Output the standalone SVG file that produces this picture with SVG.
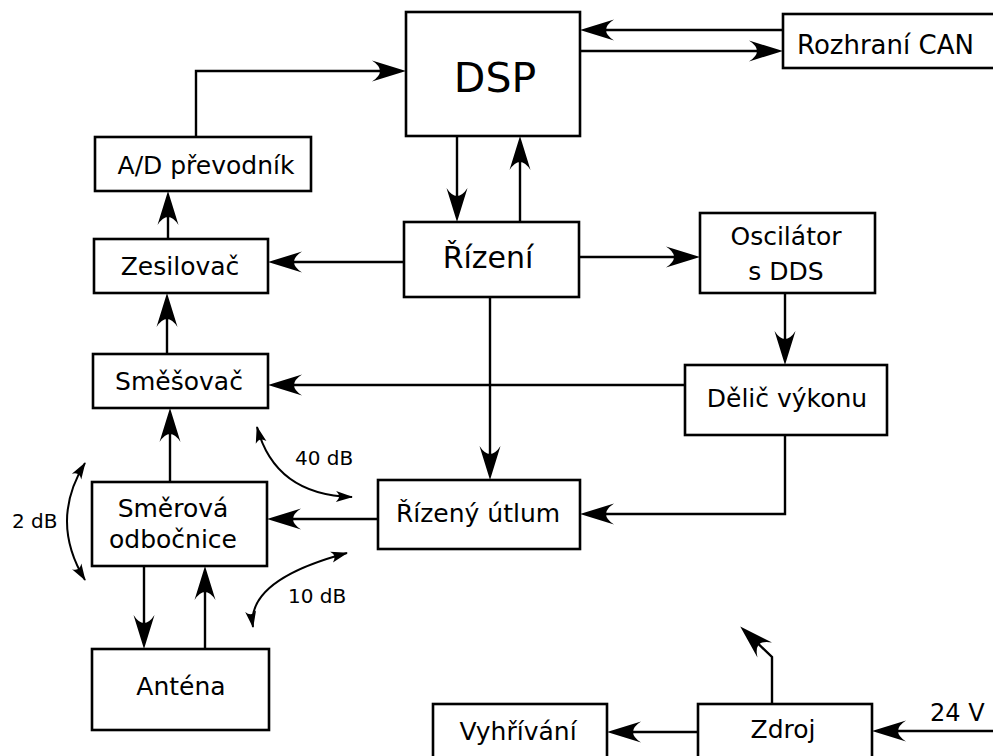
<svg xmlns="http://www.w3.org/2000/svg" width="993" height="756" viewBox="0 0 993 756">
<style>
rect{fill:#fff;stroke:#000;stroke-width:2.6}
text{font-family:"DejaVu Sans","Liberation Sans",sans-serif;fill:#000;font-size:25px;text-anchor:middle}
.c path{fill:none;stroke:#000;stroke-width:2.4;marker-end:url(#a)}
.c path.cv{stroke-width:2;marker-start:url(#s);marker-end:url(#s)}
.lbl{font-size:20px;text-anchor:start}
</style>
<defs>
<marker id="a" markerUnits="userSpaceOnUse" orient="auto" refX="-8" refY="0" markerWidth="1" markerHeight="1" overflow="visible">
<path d="M0,0 L-34,-10.5 Q-18,0 -34,10.5 Z" fill="#000"/>
</marker>
<marker id="s" markerUnits="userSpaceOnUse" orient="auto-start-reverse" refX="0" refY="0" markerWidth="1" markerHeight="1" overflow="visible">
<path d="M1,0 L-16,-5.5 Q-10,0 -16,5.5 Z" fill="#000"/>
</marker>
</defs>
<g class="c" id="connectors">
<path d="M196,137 V71 H398"/>
<path d="M580,51 H775"/>
<path d="M783,30 H588"/>
<path d="M457,136 V214"/>
<path d="M520,222 V144"/>
<path d="M404,262 H276"/>
<path d="M579,257 H692"/>
<path d="M785,293 V357"/>
<path d="M685,385 H276"/>
<path d="M490,297 V472"/>
<path d="M785,435 V514 H588"/>
<path d="M378,519 H275"/>
<path d="M168,239 V199"/>
<path d="M167,354 V301"/>
<path d="M170,482 V416"/>
<path d="M144,566 V641"/>
<path d="M205,649 V574"/>
<path d="M698,732 H615"/>
<path d="M993,731 H880"/>
<path d="M772,704 V657 L746,632"/>
<path class="cv" d="M85,463 Q49,521 85,580"/>
<path class="cv" d="M257,427 Q275,495 352,497"/>
<path class="cv" d="M347,553 Q246,580 253,627"/>
</g>
<g id="dsp"><rect x="406" y="12" width="174" height="124"/><text x="495" y="92" style="font-size:41px">DSP</text></g>
<g id="can"><rect x="783" y="14" width="220" height="54"/><text x="797" y="54" style="text-anchor:start;font-size:26px">Rozhraní CAN</text></g>
<g id="ad"><rect x="95" y="137" width="216" height="54"/><text x="206" y="174">A/D převodník</text></g>
<g id="zesilovac"><rect x="94" y="239" width="174" height="54"/><text x="180" y="275">Zesilovač</text></g>
<g id="rizeni"><rect x="404" y="222" width="175" height="75"/><text x="488" y="268" style="font-size:30px">Řízení</text></g>
<g id="oscilator"><rect x="700" y="213" width="175" height="80"/><text x="786" y="245">Oscilátor</text><text x="786" y="280">s DDS</text></g>
<g id="delic"><rect x="685" y="365" width="202" height="70"/><text x="787" y="407">Dělič výkonu</text></g>
<g id="smesovac"><rect x="93" y="354" width="175" height="54"/><text x="179" y="390">Směšovač</text></g>
<g id="smerova"><rect x="92" y="482" width="175" height="84"/><text x="173" y="517">Směrová</text><text x="173" y="548">odbočnice</text></g>
<g id="utlum"><rect x="378" y="480" width="202" height="69"/><text x="478" y="522">Řízený útlum</text></g>
<g id="antena"><rect x="92" y="649" width="177" height="81"/><text x="181" y="695">Anténa</text></g>
<g id="vyhrivani"><rect x="433" y="704" width="174" height="60"/><text x="518" y="740">Vyhřívání</text></g>
<g id="zdroj"><rect x="698" y="704" width="174" height="60"/><text x="783" y="738">Zdroj</text></g>
<g id="labels">
<text class="lbl" x="12" y="528">2 dB</text>
<text class="lbl" x="295" y="465">40 dB</text>
<text class="lbl" x="288" y="603">10 dB</text>
<text class="lbl" x="930" y="721" style="font-size:24px">24 V</text>
</g>
</svg>
